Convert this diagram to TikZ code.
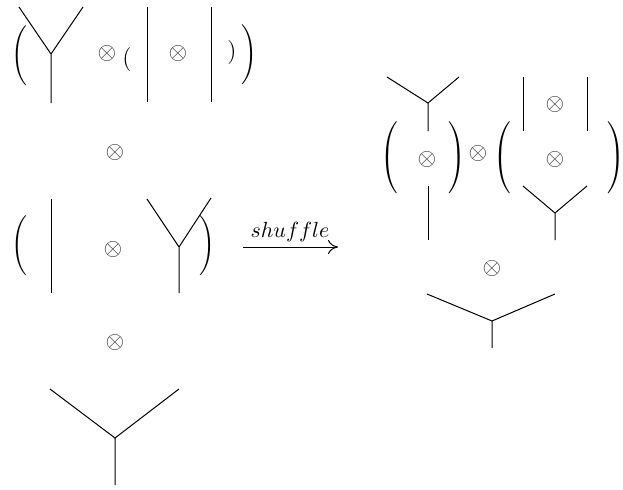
\documentclass[tikz,border=0pt]{standalone}
\usetikzlibrary{arrows.meta,positioning}
\newcommand{\bigparen}[2]{$\left#1\vcenter{\hbox{\rule{0pt}{#2}}}\right.$}
\tikzset{
  >={To[length=5pt,width=7pt]},
  edge/.style={line width=.5pt,draw=black,line cap=butt},
  paren/.style={inner sep=0pt,outer sep=0pt},
  tens/.style={inner sep=0pt,text=black!80,font=\fontsize{13}{15}\selectfont},
  small/.style={inner sep=0pt,font=\fontsize{12}{14}\selectfont},
  lab/.style={inner sep=1pt,font=\fontsize{10.5}{12}\selectfont}
}
\begin{document}
\begin{tikzpicture}[x=0.5pt,y=-0.5pt]
  \useasboundingbox (0,0) rectangle (623,489);
  % left column, first factor
  \node[paren] (lpA) at (21,56) {\bigparen{(}{27pt}};
  \coordinate (tA1) at (19,7); \coordinate (tA) at (51,54);
  \coordinate (tA2) at (83,7); \coordinate (tAr) at (51,103);
  \node[tens] (oA) at (107,53) {$\otimes$};
  \node[small] (lpB) at (127,59) {$($};
  \coordinate (iA1) at (147,7); \coordinate (iA2) at (147,102);
  \node[tens] (oB) at (178,53) {$\otimes$};
  \coordinate (iB1) at (211,7); \coordinate (iB2) at (211,102);
  \node[small] (rpB) at (232,52) {$)$};
  \node[paren] (rpA) at (251,55) {\bigparen{)}{27pt}};
  \node[tens] (oC) at (115,152) {$\otimes$};
  % left column, second factor
  \node[paren] (lpC) at (21,246) {\bigparen{(}{28pt}};
  \coordinate (iC1) at (51,199); \coordinate (iC2) at (51,293);
  \node[tens] (oD) at (113,249) {$\otimes$};
  \coordinate (tB1) at (147,199); \coordinate (tB) at (179,247);
  \coordinate (tB2) at (211,198); \coordinate (tBr) at (179,293);
  \node[paren] (rpC) at (209,246) {\bigparen{)}{28pt}};
  \node[tens] (oE) at (115,342) {$\otimes$};
  % left column, third factor
  \coordinate (tC1) at (50,389); \coordinate (tC) at (115,438);
  \coordinate (tC2) at (179,389); \coordinate (tCr) at (115,485);
  % shuffle arrow
  \coordinate (arA) at (243,247); \coordinate (arB) at (338,247);
  \node[lab] (shuf) at (290,232) {$shuffle$};
  % right column
  \coordinate (tD1) at (387,77); \coordinate (tD) at (428,103);
  \coordinate (tD2) at (459,77); \coordinate (tDr) at (428,131);
  \node[paren] (lpD) at (390,158) {\bigparen{(}{34pt}};
  \node[tens] (oF) at (427,159) {$\otimes$};
  \coordinate (iD1) at (428,186); \coordinate (iD2) at (428,240);
  \node[paren] (rpD) at (458,158) {\bigparen{)}{34pt}};
  \node[tens] (oG) at (478,153) {$\otimes$};
  \node[paren] (lpE) at (503,158) {\bigparen{(}{34pt}};
  \coordinate (iE1) at (523,77); \coordinate (iE2) at (523,131);
  \node[tens] (oH) at (555,104) {$\otimes$};
  \coordinate (iF1) at (587,77); \coordinate (iF2) at (587,131);
  \node[tens] (oI) at (555,159) {$\otimes$};
  \coordinate (tE1) at (523,186); \coordinate (tE) at (555,213);
  \coordinate (tE2) at (587,186); \coordinate (tEr) at (555,240);
  \node[paren] (rpE) at (617,158) {\bigparen{)}{34pt}};
  \node[tens] (oJ) at (492,268) {$\otimes$};
  \coordinate (tF1) at (427,294); \coordinate (tF) at (492,321);
  \coordinate (tF2) at (555,294); \coordinate (tFr) at (492,348);
    \draw[edge] (tA1)--(tA)--(tA2) (tA)--(tAr);
    \draw[edge] (iA1)--(iA2) (iB1)--(iB2);
    \draw[edge] (iC1)--(iC2);
    \draw[edge] (tB1)--(tB)--(tB2) (tB)--(tBr);
    \draw[edge] (tC1)--(tC)--(tC2) (tC)--(tCr);
    \draw[edge,->] (arA)--(arB);
    \draw[edge] (tD1)--(tD)--(tD2) (tD)--(tDr);
    \draw[edge] (iD1)--(iD2) (iE1)--(iE2) (iF1)--(iF2);
    \draw[edge] (tE1)--(tE)--(tE2) (tE)--(tEr);
    \draw[edge] (tF1)--(tF)--(tF2) (tF)--(tFr);
\end{tikzpicture}
\end{document}
